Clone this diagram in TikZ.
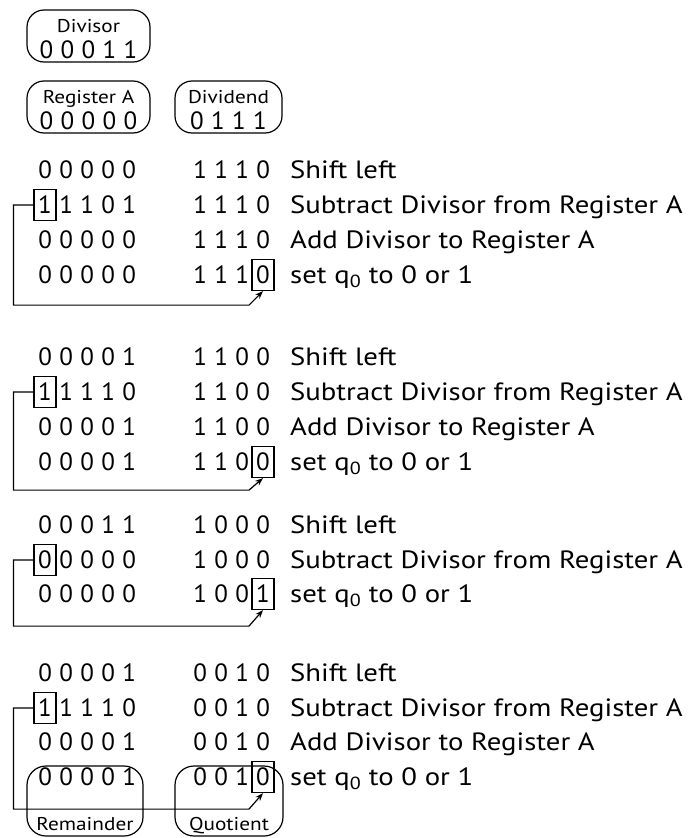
\documentclass[tikz,border=0pt]{standalone}
\usepackage{fontspec}
\setmainfont{PT Sans}[FakeStretch=1.15]
\newfontfamily\bitfont{PT Sans}
\usetikzlibrary{arrows.meta,calc}
% one fixed-width cell per bit
\newcommand\dgt[1]{\makebox[21pt]{\bitfont #1}}
\begin{document}
\begin{tikzpicture}[x=1pt,y=-1pt,
  every node/.style={inner sep=0pt, font=\fontsize{25}{30}\selectfont},
  row/.style={anchor=base west},
  lbl/.style={font=\fontsize{18.5}{22}\selectfont, anchor=base},
  bitbox/.style={draw, line width=1.2pt, minimum width=22pt, minimum height=31pt, font=\fontsize{25}{30}\bitfont},
  regbox/.style={draw, line width=1.2pt, rounded corners=17pt},
  loopback/.style={draw, line width=1.2pt, -{Stealth[length=8pt,width=6pt]}},
]
\useasboundingbox (0,0) rectangle (688,838);

% ---- initial registers ----
\node[regbox, minimum width=123pt, minimum height=52pt] (divisor) at (88.5,36) {};
\node[lbl] (divisorlbl) at (88.5,32) {Divisor};
\node[anchor=base] (divisorbits) at (88.5,58.5) {\dgt0\dgt0\dgt0\dgt1\dgt1};

\node[regbox, minimum width=123pt, minimum height=52pt] (rega) at (88.5,107) {};
\node[lbl] (regalbl) at (88.5,103) {Register A};
\node[anchor=base] (regabits) at (88.5,129.5) {\dgt0\dgt0\dgt0\dgt0\dgt0};

\node[regbox, minimum width=107pt, minimum height=52pt] (dividend) at (228.5,107) {};
\node[lbl] (dividendlbl) at (228.5,103) {Dividend};
\node[anchor=base] (dividendbits) at (228.5,129.5) {\dgt0\dgt1\dgt1\dgt1};

% ---- step 1 ----
\node[row] (a11) at (34.5,178.5) {\dgt0\dgt0\dgt0\dgt0\dgt0};
\node[row] (q11) at (189.5,178.5) {\dgt1\dgt1\dgt1\dgt0};
\node[row] (t11) at (290,178.5) {Shift left};

\node[bitbox] (s1) at (45,205) {1};
\node[row] (a12) at (55.5,213.5) {\dgt1\dgt1\dgt0\dgt1};
\node[row] (q12) at (189.5,213.5) {\dgt1\dgt1\dgt1\dgt0};
\node[row] (t12) at (290,213.5) {Subtract Divisor from Register A};

\node[row] (a13) at (34.5,248.5) {\dgt0\dgt0\dgt0\dgt0\dgt0};
\node[row] (q13) at (189.5,248.5) {\dgt1\dgt1\dgt1\dgt0};
\node[row] (t13) at (290,248.5) {Add Divisor to Register A};

\node[row] (a14) at (34.5,283.5) {\dgt0\dgt0\dgt0\dgt0\dgt0};
\node[row] (q14) at (189.5,283.5) {\dgt1\dgt1\dgt1};
\node[bitbox] (b1) at (263,275) {0};
\node[row] (t14) at (290,283.5) {set q\textsubscript{0} to 0 or 1};

\draw[loopback] (s1.west) -- ++(-20,0) |- ($(b1.south)+(-14,14)$) -- (b1.south);

% ---- step 2 ----
\node[row] (a21) at (34.5,365.5) {\dgt0\dgt0\dgt0\dgt0\dgt1};
\node[row] (q21) at (189.5,365.5) {\dgt1\dgt1\dgt0\dgt0};
\node[row] (t21) at (290,365.5) {Shift left};

\node[bitbox] (s2) at (45,392) {1};
\node[row] (a22) at (55.5,400.5) {\dgt1\dgt1\dgt1\dgt0};
\node[row] (q22) at (189.5,400.5) {\dgt1\dgt1\dgt0\dgt0};
\node[row] (t22) at (290,400.5) {Subtract Divisor from Register A};

\node[row] (a23) at (34.5,435.5) {\dgt0\dgt0\dgt0\dgt0\dgt1};
\node[row] (q23) at (189.5,435.5) {\dgt1\dgt1\dgt0\dgt0};
\node[row] (t23) at (290,435.5) {Add Divisor to Register A};

\node[row] (a24) at (34.5,470.5) {\dgt0\dgt0\dgt0\dgt0\dgt1};
\node[row] (q24) at (189.5,470.5) {\dgt1\dgt1\dgt0};
\node[bitbox] (b2) at (263,462) {0};
\node[row] (t24) at (290,470.5) {set q\textsubscript{0} to 0 or 1};

\draw[loopback] (s2.west) -- ++(-20,0) |- ($(b2.south)+(-14,12)$) -- (b2.south);

% ---- step 3 ----
\node[row] (a31) at (34.5,533.5) {\dgt0\dgt0\dgt0\dgt1\dgt1};
\node[row] (q31) at (189.5,533.5) {\dgt1\dgt0\dgt0\dgt0};
\node[row] (t31) at (290,533.5) {Shift left};

\node[bitbox] (s3) at (45,560) {0};
\node[row] (a32) at (55.5,568.5) {\dgt0\dgt0\dgt0\dgt0};
\node[row] (q32) at (189.5,568.5) {\dgt1\dgt0\dgt0\dgt0};
\node[row] (t32) at (290,568.5) {Subtract Divisor from Register A};

\node[row] (a33) at (34.5,602.5) {\dgt0\dgt0\dgt0\dgt0\dgt0};
\node[row] (q33) at (189.5,602.5) {\dgt1\dgt0\dgt0};
\node[bitbox] (b3) at (263,594) {1};
\node[row] (t33) at (290,602.5) {set q\textsubscript{0} to 0 or 1};

\draw[loopback] (s3.west) -- ++(-20,0) |- ($(b3.south)+(-14,16)$) -- (b3.south);

% ---- step 4 ----
\node[row] (a41) at (34.5,681.5) {\dgt0\dgt0\dgt0\dgt0\dgt1};
\node[row] (q41) at (189.5,681.5) {\dgt0\dgt0\dgt1\dgt0};
\node[row] (t41) at (290,681.5) {Shift left};

\node[bitbox] (s4) at (45,708) {1};
\node[row] (a42) at (55.5,716.5) {\dgt1\dgt1\dgt1\dgt0};
\node[row] (q42) at (189.5,716.5) {\dgt0\dgt0\dgt1\dgt0};
\node[row] (t42) at (290,716.5) {Subtract Divisor from Register A};

\node[row] (a43) at (34.5,750.5) {\dgt0\dgt0\dgt0\dgt0\dgt1};
\node[row] (q43) at (189.5,750.5) {\dgt0\dgt0\dgt1\dgt0};
\node[row] (t43) at (290,750.5) {Add Divisor to Register A};

\node[row] (a44) at (34.5,785.5) {\dgt0\dgt0\dgt0\dgt0\dgt1};
\node[row] (q44) at (189.5,785.5) {\dgt0\dgt0\dgt1};
\node[bitbox] (b4) at (263,777) {0};
\node[row] (t44) at (290,785.5) {set q\textsubscript{0} to 0 or 1};

% ---- final result ----
\node[regbox, rounded corners=19pt, minimum width=116pt, minimum height=70pt] (remainder) at (85,801) {};
\node[lbl] (remainderlbl) at (85,830) {Remainder};
\node[regbox, rounded corners=19pt, minimum width=108pt, minimum height=70pt] (quotient) at (229,801) {};
\node[lbl] (quotientlbl) at (229,830) {Quotient};

\draw[loopback] (s4.west) -- ++(-20,0) |- ($(b4.south)+(-14,16)$) -- (b4.south);
\end{tikzpicture}
\end{document}
